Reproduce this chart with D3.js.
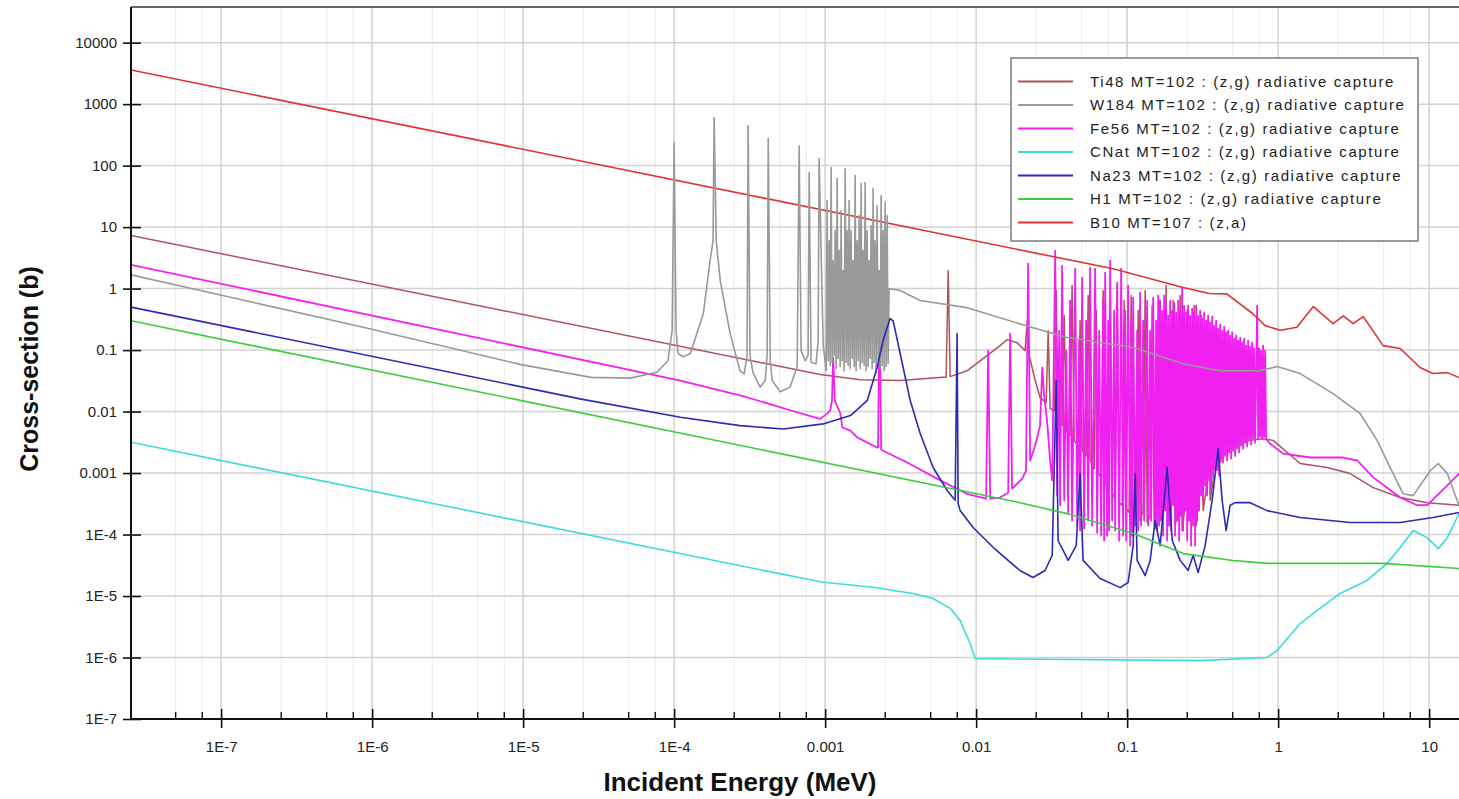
<!DOCTYPE html>
<html>
<head>
<meta charset="utf-8">
<script src="https://d3js.org/d3.v7.min.js"></script>
<style>
body { margin: 0; background: #fff; overflow: hidden; }
text { font-family: "Liberation Sans", Arial, sans-serif; }
</style>
</head>
<body>
<svg id="chart" width="1459" height="799"></svg>
<script>
// axis ticks
const xTicks = [1e-7, 1e-6, 1e-5, 1e-4, 1e-3, 1e-2, 1e-1, 1, 10];
const xTickLabels = ["1E-7", "1E-6", "1E-5", "1E-4", "0.001", "0.01", "0.1", "1", "10"];
const yTicks = [1e-7, 1e-6, 1e-5, 1e-4, 1e-3, 1e-2, 1e-1, 1, 10, 100, 1000, 10000];
const yTickLabels = ["1E-7", "1E-6", "1E-5", "1E-4", "0.001", "0.01", "0.1", "1", "10", "100", "1000", "10000"];
const xMinorSteps = [2.5, 5, 7.5];

const seriesNames = [
  "Ti48 MT=102 : (z,g) radiative capture",
  "W184 MT=102 : (z,g) radiative capture",
  "Fe56 MT=102 : (z,g) radiative capture",
  "CNat MT=102 : (z,g) radiative capture",
  "Na23 MT=102 : (z,g) radiative capture",
  "H1 MT=102 : (z,g) radiative capture",
  "B10 MT=107 : (z,a)"
];

// [incident energy (MeV), cross-section (b)]
const ti48 = [[2.53e-8,7.3],[9.27e-4,0.040],[1.71e-3,0.033],[3.14e-3,0.032],[6.04e-3,0.036],[6.33e-3,0.036],[6.53e-3,1.96],[6.73e-3,0.037],[8.7e-3,0.046],[0.0118,0.081],[0.0144,0.118],[0.016,0.148],[0.0187,0.132],[0.0211,0.098],[0.0218,0.302],[0.0225,0.081],[0.0246,0.032],[0.0265,0.0169],[0.0291,0.0140],[0.0300,0.207],[0.0309,0.0112],[0.0329,0.0104],[0.0339,0.928],[0.0349,0.0077],[0.0371,0.0059],[0.0383,0.364],[0.0395,0.0049],[0.0419,0.0041],[0.0432,1.12],[0.0446,0.0034],[0.0474,0.0028],[0.0488,0.302],[0.0504,0.0023],[0.0535,0.0019],[0.0552,0.770],[0.0569,0.0016],[0.0605,0.00118],[0.0624,0.439],[0.0643,0.00102],[0.0673,8.1e-4],[0.0694,0.928],[0.0715,7.0e-4],[0.0749,5.6e-4],[0.0772,0.529],[0.0796,4.8e-4],[0.0833,3.85e-4],[0.0859,1.12],[0.0885,3.3e-4],[0.0927,3.0e-4],[0.0955,0.639],[0.0985,2.65e-4],[0.1031,2.28e-4],[0.1063,0.770],[0.1096,2.0e-4],[0.1147,1.82e-4],[0.1183,0.439],[0.1219,1.69e-4],[0.1276,2.45e-4],[0.1316,0.928],[0.1357,1.57e-4],[0.1420,2.0e-4],[0.1464,0.529],[0.1510,1.4e-4],[0.1580,2.45e-4],[0.1629,0.639],[0.1679,1.69e-4],[0.1758,3.0e-4],[0.1812,1.12],[0.1868,1.69e-4],[0.1956,2.65e-4],[0.2017,0.639],[0.2079,1.4e-4],[0.2177,2.45e-4],[0.2244,0.770],[0.2313,1.16e-4],[0.2422,3.0e-4],[0.2497,0.439],[0.2574,1.69e-4],[0.2694,3.6e-4],[0.2778,0.529],[0.2864,1.4e-4],[0.2998,4.3e-4],[0.3090,0.364],[0.3186,2.45e-4],[0.3335,5.2e-4],[0.3438,0.302],[0.3545,3.6e-4],[0.3711,7.6e-4],[0.3826,0.207],[0.3944,0.0011],[0.4257,0.0019],[0.4809,0.0025],[0.5601,0.0031],[0.6524,0.0034],[0.7954,0.0036],[0.927,0.0034],[1.40,0.00143],[2.11,0.00123],[3.0,9.8e-4],[4.26,5.8e-4],[6.43,4.0e-4],[9.7,3.3e-4],[15.8,3.0e-4],[20,2.9e-4]];

const w184 = [[2.53e-8,1.67],[8.45e-7,0.24],[9.7e-6,0.058],[2.82e-5,0.036],[5.12e-5,0.035],[7.69e-5,0.0435],[9.1e-5,0.067],[9.7e-5,0.21],[1.0e-4,237],[1.03e-4,0.21],[1.06e-4,0.088],[1.15e-4,0.078],[1.28e-4,0.088],[1.56e-4,0.39],[1.73e-4,2.85],[1.81e-4,6.0],[1.84e-4,603],[1.90e-4,6.0],[2.02e-4,1.35],[2.35e-4,0.185],[2.73e-4,0.046],[2.91e-4,0.041],[3.04e-4,0.081],[3.09e-4,447],[3.18e-4,0.081],[3.33e-4,0.043],[3.71e-4,0.025],[4.01e-4,0.032],[4.13e-4,0.081],[4.20e-4,275],[4.33e-4,0.067],[4.46e-4,0.032],[5.04e-4,0.021],[5.86e-4,0.025],[6.53e-4,0.054],[6.73e-4,211],[6.93e-4,0.098],[7.38e-4,0.067],[7.71e-4,0.081],[7.84e-4,77],[8.07e-4,0.063],[8.71e-4,0.06],[8.99e-4,0.143],[9.12e-4,130],[9.71e-4,0.12],
  [1.016e-3,0.046],[1.030e-3,27],[1.047e-3,0.067],[1.063e-3,6.0],[1.079e-3,0.056],[1.096e-3,92.8],[1.112e-3,0.063],[1.130e-3,2.85],[1.148e-3,0.081],[1.165e-3,8.8],[1.183e-3,0.05],[1.201e-3,61.5],[1.219e-3,0.073],[1.238e-3,4.15],[1.257e-3,0.054],[1.276e-3,18.5],[1.297e-3,0.067],[1.316e-3,1.96],[1.336e-3,0.046],[1.357e-3,89],[1.378e-3,0.063],[1.399e-3,8.8],[1.420e-3,0.056],[1.442e-3,27],[1.464e-3,0.05],[1.486e-3,8.8],[1.510e-3,0.073],[1.532e-3,2.85],[1.556e-3,0.054],[1.580e-3,68.8],[1.603e-3,0.046],[1.629e-3,6.0],[1.655e-3,0.067],[1.679e-3,15.4],[1.706e-3,0.05],[1.731e-3,51],[1.758e-3,0.063],[1.785e-3,4.15],[1.812e-3,0.056],[1.840e-3,53],[1.868e-3,0.046],[1.897e-3,8.8],[1.927e-3,0.054],[1.955e-3,2.85],[1.986e-3,0.073],[2.016e-3,10.6],[2.048e-3,0.05],[2.078e-3,42.3],[2.111e-3,0.063],[2.142e-3,6.0],[2.177e-3,0.043],[2.208e-3,22.4],[2.244e-3,0.067],[2.279e-3,1.96],[2.313e-3,0.05],[2.349e-3,32.5],[2.385e-3,0.056],[2.421e-3,8.8],[2.459e-3,0.046],[2.495e-3,25],[2.535e-3,0.054],[2.575e-3,15.4],[2.613e-3,0.06],[2.654e-3,1.0],
  [3.14e-3,0.93],[4.26e-3,0.64],[8.7e-3,0.49],[0.0238,0.23],[0.040,0.16],[0.11,0.11],[0.235,0.06],[0.413,0.046],[0.76,0.046],[0.985,0.054],[1.40,0.0415],[2.31,0.0196],[3.49,9.3e-3],[4.52,3.4e-3],[5.77,9.8e-4],[6.73,4.6e-4],[7.83,4.3e-4],[10.2,1.1e-3],[11.5,1.43e-3],[13.2,9.8e-4],[15.3,3.6e-4],[16.5,2.5e-4],[20,1.3e-4]];

const fe56 = [[2.53e-8,2.43],[1.10e-4,0.032],[3.03e-4,0.0171],[6.50e-4,0.00975],[9.27e-4,0.0076],[1.03e-3,0.00927],[1.08e-3,0.0104],[1.11e-3,0.0151],[1.13e-3,0.0755],[1.16e-3,0.0151],[1.26e-3,0.0093],[1.30e-3,0.0055],[1.47e-3,0.0049],[1.63e-3,0.0038],[2.20e-3,0.0026],[2.24e-3,0.0026],[2.28e-3,0.132],[2.31e-3,0.132],[2.35e-3,0.0024],[2.42e-3,0.0023],[3.47e-3,0.0015],[5.78e-3,7.6e-4],[8.67e-3,4.6e-4],[0.01164,3.85e-4],[0.01201,0.098],[0.01239,3.85e-4],[0.0144,4.0e-4],[0.0163,4.8e-4],[0.0168,0.185],[0.0173,5.6e-4],[0.0187,6.7e-4],[0.0202,8.1e-4],[0.0214,0.0011],[0.0221,2.55],[0.0228,0.0016],[0.0246,0.0028],[0.0265,0.0059],[0.0274,0.052],[0.0282,0.0182],[0.0295,0.0071],[0.0309,0.0016],[0.0319,7.6e-4],
  [0.0334,4.15],[0.0344,4.3e-4],[0.0355,0.207],[0.0360,3.0e-4],[0.0371,2.37],[0.0383,3.6e-4],[0.0395,0.098],[0.0407,2.28e-4],[0.0419,0.639],[0.0432,1.69e-4],[0.0453,2.11],[0.0467,1.4e-4],[0.0481,0.143],[0.0488,1.16e-4],[0.0504,1.51],[0.0519,1.25e-4],[0.0535,0.302],[0.0552,1.69e-4],[0.0569,2.19],[0.0587,1.4e-4],[0.0614,2.11],[0.0633,1.08e-4],[0.0653,0.207],[0.0673,9.6e-5],[0.0694,0.639],[0.0704,8.0e-5],[0.0715,1.82],[0.0737,9.6e-5],[0.0749,0.302],[0.0760,1.16e-4],[0.0772,2.85],[0.0796,1.69e-4],[0.0820,0.439],[0.0833,1.16e-4],[0.0859,1.25],[0.0885,8.0e-5],[0.0913,2.11],[0.0941,9.6e-5],[0.0970,0.439],[0.0985,8.0e-5],[0.1015,1.12],[0.1047,6.6e-5],[0.1063,0.302],[0.1079,9.6e-5],[0.1096,0.714],[0.1130,1.4e-4],[0.1165,0.207],[0.1183,1.16e-4],[0.1219,0.861],[0.1238,1.4e-4],[0.1276,0.302],[0.1296,1.69e-4],[0.1357,0.639],[0.1378,1.4e-4],[0.1420,0.207],[0.1442,1.69e-4],[0.1487,0.714],[0.1533,1.25e-4],[0.1556,0.302],[0.1580,1.16e-4],[0.1605,0.770],[0.1629,1.4e-4],
  [0.1654,0.639],[0.1679,1.69e-4],[0.1705,0.439],[0.1731,9.6e-5],[0.1758,0.770],[0.1785,2.45e-4],[0.1812,0.529],[0.1840,8.0e-5],[0.1868,0.364],[0.1897,1.4e-4],[0.1927,0.639],[0.1956,1.16e-4],[0.1986,0.439],[0.2017,3.0e-4],[0.2048,0.592],[0.2079,9.6e-5],[0.2111,0.407],[0.2144,1.69e-4],[0.2177,0.639],[0.2210,8.0e-5],[0.2244,0.439],[0.2278,2.0e-4],[0.2313,1.04],[0.2349,1.16e-4],[0.2385,0.529],[0.2422,2.45e-4],[0.2459,0.407],[0.2497,8.0e-5],[0.2535,0.529],[0.2574,1.69e-4],[0.2613,0.364],[0.2653,6.6e-5],[0.2694,0.473],[0.2736,1.4e-4],[0.2778,0.407],[0.2820,6.6e-5],[0.2864,0.529],[0.2908,1.69e-4],[0.2952,0.364],[0.2998,2.45e-4],[0.3043,0.439],[0.3090,4.3e-4],[0.3138,0.325],[0.3186,3.6e-4],[0.3235,0.407],[0.3285,6.3e-4],[0.3335,0.302],[0.3386,4.3e-4],[0.3438,0.364],[0.3491,7.6e-4],[0.3545,0.280],[0.3599,5.2e-4],[0.3655,0.351],[0.3711,9.1e-4],[0.3768,0.250],[0.3826,0.0011],[0.3885,0.302],[0.3944,0.00132],[0.4005,0.224],[0.4067,9.1e-4],[0.4129,0.260],[0.4192,0.0016],[0.4257,0.207],[0.4322,0.00148],[0.4389,0.241],[0.4456,0.0019],[0.4525,0.193],[0.4594,0.0016],[0.4665,0.207],[0.4737,0.00216],[0.4809,0.172],[0.4883,0.00172],[0.4958,0.193],[0.5035,0.0023],[0.5112,0.154],[0.5191,0.0019],[0.5271,0.172],[0.5352,0.0025],[0.5434,0.143],[0.5518,0.00216],[0.5601,0.160],[0.5687,0.0028],[0.5775,0.132],[0.5863,0.0025],[0.5954,0.154],[0.6045,0.0031],[0.6138,0.118],[0.6233,0.0027],[0.6329,0.143],[0.6426,0.0034],[0.6524,0.114],[0.6625,0.0029],[0.6727,0.132],[0.6830,0.0036],[0.6936,0.106],[0.7042,0.0031],[0.7261,0.529],[0.7373,0.0036],[0.7486,0.106],[0.7598,0.0039],[0.7715,0.098],[0.7834,0.0036],[0.7954,0.118],[0.8077,0.0039],[0.8201,0.098],[0.8327,0.0036],
  [0.885,3.0e-3],[1.08,2.07e-3],[1.63,1.79e-3],[2.69,1.79e-3],[3.34,1.6e-3],[4.26,8.5e-4],[6.43,4.0e-4],[8.33,3.0e-4],[9.7,3.0e-4],[11.8,4.8e-4],[15.8,9.8e-4],[20,1.6e-3]];

const cnat = [[2.53e-8,3.17e-3],[2.7e-4,3.13e-5],[9.7e-4,1.68e-5],[2.08e-3,1.39e-5],[3.83e-3,1.1e-5],[5.19e-3,9.1e-6],[6.73e-3,6.3e-6],[7.83e-3,4.0e-6],[9.12e-3,1.69e-6],[9.85e-3,9.6e-7],[0.304,8.9e-7],[0.845,1.0e-6],[0.985,1.3e-6],[1.40,3.57e-6],[1.81,5.8e-6],[2.57,1.1e-5],[3.88,1.79e-5],[5.27,3.4e-5],[6.43,6.15e-5],[7.83,1.16e-4],[9.7,8.9e-5],[11.5,5.9e-5],[13.2,8.9e-5],[15.8,2.2e-4],[20,3.0e-4]];

const na23 = [[2.53e-8,0.50],[2.38e-5,0.0161],[1.10e-4,0.0081],[2.73e-4,5.9e-3],[5.27e-4,5.2e-3],[9.7e-4,6.3e-3],[1.47e-3,8.6e-3],[1.9e-3,0.0151],[2.21e-3,0.052],[2.42e-3,0.143],[2.69e-3,0.325],[2.82e-3,0.30],[3.14e-3,0.088],[3.66e-3,0.0151],[4.26e-3,4.4e-3],[5.19e-3,1.23e-3],[6.43e-3,5.2e-4],[7.26e-3,3.6e-4],[7.48e-3,0.185],[7.6e-3,3.2e-4],[7.83e-3,2.45e-4],[9.55e-3,1.3e-4],[0.013,6.15e-5],[0.0195,2.6e-5],[0.0238,2.0e-5],[0.0286,2.6e-5],[0.0319,4.6e-5],[0.0339,0.032],[0.0349,8.0e-5],[0.0407,3.8e-5],[0.046,6.6e-5],[0.0488,9.8e-4],[0.0511,3.8e-5],[0.0662,1.93e-5],[0.090,1.37e-5],[0.1015,1.66e-5],[0.1096,6.6e-5],[0.113,9.8e-4],[0.1165,3.8e-5],[0.1316,2.15e-5],[0.142,3.8e-5],[0.1533,1.69e-4],[0.1654,6.6e-5],[0.184,1.23e-3],[0.199,8.0e-5],[0.2244,3.8e-5],[0.2535,2.6e-5],[0.2736,4.6e-5],[0.2952,2.4e-5],[0.3285,6.6e-5],[0.3655,3.6e-4],[0.4005,2.5e-3],[0.4257,3.6e-4],[0.4525,1.16e-4],[0.4809,3.0e-4],[0.5191,3.3e-4],[0.6524,3.3e-4],[0.845,2.45e-4],[1.40,1.89e-4],[3.0,1.57e-4],[6.43,1.57e-4],[10.6,1.89e-4],[15.8,2.28e-4],[20,2.4e-4]];

const h1 = [[2.53e-8,0.30],[0.0195,3.3e-4],[0.040,2.19e-4],[0.11,1.04e-4],[0.235,4.9e-5],[0.50,3.78e-5],[0.845,3.4e-5],[2.31,3.4e-5],[4.96,3.4e-5],[15.8,2.8e-5],[20,2.75e-5]];

const b10 = [[2.53e-8,3600],[0.0808,2.1],[0.235,1.04],[0.35,0.83],[0.457,0.82],[0.68,0.39],[0.82,0.25],[1.03,0.21],[1.33,0.235],[1.71,0.51],[2.31,0.27],[2.7,0.36],[3.14,0.27],[3.66,0.35],[4.96,0.118],[6.43,0.106],[8.71,0.052],[10.6,0.0415],[13.2,0.043],[15.8,0.0357],[20,0.035]];

const seriesData = [ti48, w184, fe56, cnat, na23, h1, b10];
const seriesColors = ["#b0525a", "#999999", "#f020f0", "#3cdcdc", "#2a2ab4", "#3ccc3c", "#e03232"];
const seriesWidths = [1.5, 1.6, 1.8, 1.6, 1.6, 1.6, 1.6];
const drawOrder = [0, 2, 6, 1, 3, 4, 5];

const W = 1459, H = 799;
const plot = {left: 131, top: 7, bottom: 719, right: 1474.6};

const x = d3.scaleLog().domain([2.53e-8, 20]).range([plot.left, plot.right]);
const y = d3.scaleLog().domain([1e-7, 3.8e4]).range([plot.bottom, plot.top]);

const svg = d3.select("#chart");
svg.append("rect").attr("width", W).attr("height", H).attr("fill", "#fff");

svg.append("defs").append("clipPath").attr("id", "clip")
  .append("rect")
  .attr("x", plot.left).attr("y", plot.top)
  .attr("width", plot.right - plot.left).attr("height", plot.bottom - plot.top);

// grid
const minorX = [];
[1e-8].concat(xTicks).forEach(d => xMinorSteps.forEach(m => {
  const v = d * m;
  if (v > x.domain()[0] && v < x.domain()[1]) minorX.push(v);
}));
const grid = svg.append("g").attr("clip-path", "url(#clip)");
grid.selectAll(".gminor").data(minorX).join("line").attr("class", "gminor")
  .attr("x1", d => x(d)).attr("x2", d => x(d))
  .attr("y1", plot.top).attr("y2", plot.bottom)
  .attr("stroke", "#ebebeb").attr("stroke-width", 1);
grid.selectAll(".gmajx").data(xTicks).join("line").attr("class", "gmajx")
  .attr("x1", d => x(d)).attr("x2", d => x(d))
  .attr("y1", plot.top).attr("y2", plot.bottom)
  .attr("stroke", "#d2d2d2").attr("stroke-width", 1.5);
grid.selectAll(".gmajy").data(yTicks).join("line").attr("class", "gmajy")
  .attr("x1", plot.left).attr("x2", plot.right)
  .attr("y1", d => y(d)).attr("y2", d => y(d))
  .attr("stroke", "#d2d2d2").attr("stroke-width", 1.5);

// curves
const line = d3.line().x(d => x(d[0])).y(d => y(d[1]));
const curves = svg.append("g").attr("clip-path", "url(#clip)");
drawOrder.forEach(i => {
  curves.append("path")
    .datum(seriesData[i])
    .attr("d", line)
    .attr("fill", "none")
    .attr("stroke", seriesColors[i])
    .attr("stroke-width", seriesWidths[i])
    .attr("stroke-linejoin", "round");
});

// frame
svg.append("line").attr("x1", plot.left).attr("x2", W).attr("y1", plot.top).attr("y2", plot.top)
  .attr("stroke", "#333").attr("stroke-width", 1.5);
svg.append("line").attr("x1", plot.left).attr("x2", plot.left).attr("y1", plot.top).attr("y2", plot.bottom)
  .attr("stroke", "#111").attr("stroke-width", 2);
svg.append("line").attr("x1", plot.left).attr("x2", W).attr("y1", plot.bottom).attr("y2", plot.bottom)
  .attr("stroke", "#111").attr("stroke-width", 2);

// x axis
const gx = svg.append("g").attr("transform", `translate(0,${plot.bottom})`)
  .call(d3.axisBottom(x).tickValues(xTicks).tickFormat((d, i) => xTickLabels[i]).tickSize(9).tickPadding(13));
gx.select(".domain").remove();
gx.selectAll(".tick line").attr("y1", -10).attr("stroke", "#111").attr("stroke-width", 1.6);
gx.selectAll(".tick text").attr("font-size", 15).attr("fill", "#222")
  .attr("font-family", "Liberation Sans, Arial, sans-serif");
svg.append("g").selectAll("line").data(minorX).join("line")
  .attr("x1", d => x(d)).attr("x2", d => x(d))
  .attr("y1", plot.bottom - 7).attr("y2", plot.bottom)
  .attr("stroke", "#111").attr("stroke-width", 1.4);

// y axis
const gy = svg.append("g").attr("transform", `translate(${plot.left},0)`)
  .call(d3.axisLeft(y).tickValues(yTicks).tickFormat((d, i) => yTickLabels[i]).tickSize(8).tickPadding(6));
gy.select(".domain").remove();
gy.selectAll(".tick line").attr("x1", 10).attr("stroke", "#111").attr("stroke-width", 1.6);
gy.selectAll(".tick text").attr("font-size", 15).attr("fill", "#222")
  .attr("font-family", "Liberation Sans, Arial, sans-serif");

// titles
svg.append("text")
  .attr("x", 740).attr("y", 791)
  .attr("text-anchor", "middle")
  .attr("font-weight", "bold").attr("font-size", 26).attr("fill", "#111")
  .text("Incident Energy (MeV)");
svg.append("text")
  .attr("transform", "translate(38,369) rotate(-90)")
  .attr("text-anchor", "middle")
  .attr("font-weight", "bold").attr("font-size", 25).attr("fill", "#111")
  .text("Cross-section (b)");

// legend
const lg = svg.append("g");
lg.append("rect").attr("x", 1011).attr("y", 58).attr("width", 407).attr("height", 183)
  .attr("fill", "#fff").attr("stroke", "#7a7a7a").attr("stroke-width", 1.5);
seriesNames.forEach((name, i) => {
  const cy = 81.5 + i * 23.5;
  lg.append("line").attr("x1", 1018).attr("x2", 1073).attr("y1", cy).attr("y2", cy)
    .attr("stroke", seriesColors[i]).attr("stroke-width", 2);
  lg.append("text").attr("x", 1090).attr("y", cy + 5)
    .attr("font-size", 15).attr("fill", "#222").attr("letter-spacing", "1.6px")
    .text(name);
});
</script>
</body>
</html>
